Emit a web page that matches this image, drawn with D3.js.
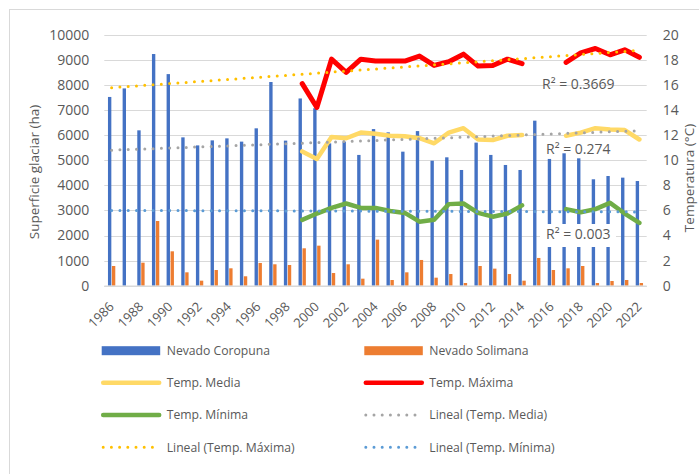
<!DOCTYPE html>
<html>
<head>
<meta charset="utf-8">
<script src="https://cdn.jsdelivr.net/npm/d3@7"></script>
<style>
  body { margin: 0; background: #fff; }
  svg text { font-family: "Open Sans", "Noto Sans", sans-serif; fill: #595959; }
</style>
</head>
<body>
<div id="chart"></div>
<script>
const years = [1986,1987,1988,1989,1990,1991,1992,1993,1994,1995,1996,1997,1998,1999,2000,2001,2002,2003,2004,2005,2006,2007,2008,2009,2010,2011,2012,2013,2014,2015,2016,2017,2018,2019,2020,2021,2022];

// superficie glaciar (ha)
const coropuna = [7520,7860,6190,9230,8430,5910,5590,5790,5870,5740,6270,8115,5780,7460,7070,5670,5740,5210,6240,6110,5340,6160,4980,5115,4610,5700,5210,4810,4610,6575,5050,5275,5075,4240,4370,4305,4170];
const solimana = [785,0,917,2578,1370,533,200,625,693,375,905,853,825,1490,1595,505,853,280,1835,227,533,1025,320,465,107,785,680,465,200,1105,625,693,785,107,187,227,107];

// temperaturas desde 1999 (null = sin dato)
const tempYears = [1999,2000,2001,2002,2003,2004,2005,2006,2007,2008,2009,2010,2011,2012,2013,2014,2015,2016,2017,2018,2019,2020,2021,2022];
const tMedia  = [10.7,10.1,11.85,11.75,12.2,12.1,11.95,11.9,11.75,11.35,12.2,12.55,11.65,11.6,11.95,12.0,null,null,11.95,12.2,12.55,12.45,12.4,11.65];
const tMaxima = [16.1,14.2,18.05,17.0,18.05,17.9,17.9,17.9,18.3,17.55,17.85,18.45,17.5,17.55,18.05,17.7,null,null,17.8,18.55,18.9,18.4,18.8,18.2];
const tMinima = [5.25,5.75,6.2,6.55,6.2,6.2,5.95,5.8,5.1,5.25,6.5,6.55,5.8,5.5,5.75,6.4,null,null,6.1,5.85,6.1,6.6,5.75,5.0];

// lineas de tendencia (valor en 1986 y en 2022)
const trendYears = [1986, 2022];
const trendMedia  = [10.8, 12.35];
const trendMaxima = [15.78, 18.75];
const trendMinima = [6.0, 5.88];
const r2Labels = ["R² = 0.3669", "R² = 0.274", "R² = 0.003"];

const leftTicks = [0,1000,2000,3000,4000,5000,6000,7000,8000,9000,10000];
const rightTicks = [0,2,4,6,8,10,12,14,16,18,20];
const yearLabels = [1986,1988,1990,1992,1994,1996,1998,2000,2002,2004,2006,2008,2010,2012,2014,2016,2018,2020,2022];

const palette = {
  grid: "#d9d9d9",
  coropuna: "#4472c4",
  solimana: "#ed7d31",
  media: "#ffd966",
  maxima: "#ff0000",
  minima: "#70ad47",
  trendMedia: "#a5a5a5",
  trendMaxima: "#ffc000",
  trendMinima: "#5b9bd5"
};

const width = 699, height = 474;
const plot = {left: 104.3, right: 646.7, top: 34.7, bottom: 285.7};

const svg = d3.select("#chart").append("svg")
  .attr("width", width).attr("height", height);

// marco del grafico
svg.append("rect")
  .attr("x", 9.5).attr("y", 9.5).attr("width", 720).attr("height", 500)
  .attr("fill", "none").attr("stroke", palette.grid);

const x = d3.scaleBand().domain(years).range([plot.left, plot.right])
  .paddingInner(0.5).paddingOuter(0.25);
const xSub = d3.scaleBand().domain(["c", "s"]).range([0, x.bandwidth()]).paddingInner(0.15);
const cx = yr => x(yr) + x.bandwidth() / 2;
const xTrend = d3.scaleLinear().domain(trendYears).range([cx(trendYears[0]), cx(trendYears[1])]);

const yL = d3.scaleLinear().domain([0, 10000]).range([plot.bottom, plot.top]);
const yR = d3.scaleLinear().domain([0, 20]).range([plot.bottom, plot.top]);

// gridlines
svg.append("g").selectAll("line")
  .data(leftTicks).enter().append("line")
  .attr("x1", plot.left).attr("x2", plot.right)
  .attr("y1", d => Math.round(yL(d)) + 0.5).attr("y2", d => Math.round(yL(d)) + 0.5)
  .attr("stroke", palette.grid).attr("stroke-width", 1);

// ejes
const leftAxis = svg.append("g").attr("transform", "translate(" + plot.left + ",0)")
  .call(d3.axisLeft(yL).tickValues(leftTicks).tickSize(0).tickPadding(15).tickFormat(d3.format("d")));
const rightAxis = svg.append("g").attr("transform", "translate(" + plot.right + ",0)")
  .call(d3.axisRight(yR).tickValues(rightTicks).tickSize(0).tickPadding(16).tickFormat(d3.format("d")));
[leftAxis, rightAxis].forEach(a => {
  a.select(".domain").remove();
  a.selectAll("text").attr("font-size", "14px").attr("fill", "#595959")
    .attr("font-family", "'Open Sans', sans-serif");
});

const bottomAxis = svg.append("g").attr("transform", "translate(0," + plot.bottom + ")")
  .call(d3.axisBottom(x).tickValues(yearLabels).tickSize(0).tickFormat(d3.format("d")));
bottomAxis.select(".domain").remove();
bottomAxis.selectAll("text")
  .attr("font-size", "13px").attr("fill", "#595959")
  .attr("font-family", "'Open Sans', sans-serif")
  .attr("text-anchor", "end")
  .attr("x", 0).attr("y", 0)
  .attr("dy", "0.35em")
  .attr("transform", "translate(0,18.5) rotate(-45)");

// barras
const bars = svg.append("g");
bars.selectAll(".coropuna")
  .data(years.map((yr, i) => ({yr: yr, v: coropuna[i]}))).enter().append("rect")
  .attr("x", d => x(d.yr) + xSub("c")).attr("width", xSub.bandwidth())
  .attr("y", d => yL(d.v)).attr("height", d => yL(0) - yL(d.v))
  .attr("fill", palette.coropuna);
bars.selectAll(".solimana")
  .data(years.map((yr, i) => ({yr: yr, v: solimana[i]}))).enter().append("rect")
  .attr("x", d => x(d.yr) + xSub("s")).attr("width", xSub.bandwidth())
  .attr("y", d => yL(d.v)).attr("height", d => yL(0) - yL(d.v))
  .attr("fill", palette.solimana);

// linea base
svg.append("line")
  .attr("x1", plot.left).attr("x2", plot.right)
  .attr("y1", plot.bottom + 0.5).attr("y2", plot.bottom + 0.5)
  .attr("stroke", palette.grid).attr("stroke-width", 1.5);

// temperaturas
const line = d3.line()
  .defined(d => d.v != null)
  .x(d => cx(d.yr)).y(d => yR(d.v));

[[tMedia, palette.media], [tMaxima, palette.maxima], [tMinima, palette.minima]].forEach(s => {
  svg.append("path")
    .datum(tempYears.map((yr, i) => ({yr: yr, v: s[0][i]})))
    .attr("d", line)
    .attr("fill", "none")
    .attr("stroke", s[1])
    .attr("stroke-width", s[1] == palette.maxima ? 5 : 4.5)
    .attr("stroke-linejoin", "round")
    .attr("stroke-linecap", "round");
});

// tendencias
[[trendMedia, palette.trendMedia], [trendMaxima, palette.trendMaxima], [trendMinima, palette.trendMinima]].forEach(t => {
  svg.append("line")
    .attr("x1", xTrend(trendYears[0])).attr("x2", xTrend(trendYears[1]))
    .attr("y1", yR(t[0][0])).attr("y2", yR(t[0][1]))
    .attr("stroke", t[1]).attr("stroke-width", 3)
    .attr("stroke-linecap", "round")
    .attr("stroke-dasharray", "0 8.3");
});

// etiquetas R²
const r2Pos = [[542, 89, false], [546, 154, false], [546, 239, true]];
r2Labels.forEach((txt, i) => {
  const p = r2Pos[i];
  if (p[2]) {
    svg.append("rect").attr("x", p[0] - 6).attr("y", p[1] - 15)
      .attr("width", 76).attr("height", 23).attr("fill", "#fff");
  }
  svg.append("text").attr("x", p[0]).attr("y", p[1])
    .attr("font-size", "14px").text(txt);
});

// titulos de ejes
svg.append("text")
  .attr("transform", "translate(39,172) rotate(-90)")
  .attr("text-anchor", "middle").attr("font-size", "13.5px")
  .text("Superficie glaciar (ha)");
svg.append("text")
  .attr("transform", "translate(694,178) rotate(-90)")
  .attr("text-anchor", "middle").attr("font-size", "13.5px")
  .text("Temperatura (°C)");

// leyenda
const legendItems = [
  {name: "Nevado Coropuna", color: palette.coropuna, type: "bar"},
  {name: "Nevado Solimana", color: palette.solimana, type: "bar"},
  {name: "Temp. Media", color: palette.media, type: "line"},
  {name: "Temp. Máxima", color: palette.maxima, type: "line"},
  {name: "Temp. Mínima", color: palette.minima, type: "line"},
  {name: "Lineal (Temp. Media)", color: palette.trendMedia, type: "dot"},
  {name: "Lineal (Temp. Máxima)", color: palette.trendMaxima, type: "dot"},
  {name: "Lineal (Temp. Mínima)", color: palette.trendMinima, type: "dot"}
];
const legendCols = [101.7, 364.3];
const legendRows = [350.7, 382.7, 415, 447.3];

const legend = svg.append("g").selectAll("g")
  .data(legendItems).enter().append("g")
  .attr("transform", (d, i) => "translate(" + legendCols[i % 2] + "," + legendRows[Math.floor(i / 2)] + ")");

legend.each(function(d) {
  const g = d3.select(this);
  if (d.type == "bar") {
    g.append("rect").attr("x", 0).attr("y", -4.5).attr("width", 58.5).attr("height", 9).attr("fill", d.color);
  } else if (d.type == "line") {
    g.append("line").attr("x1", 1.5).attr("x2", 57.5).attr("y1", 0).attr("y2", 0)
      .attr("stroke", d.color).attr("stroke-width", 4.5).attr("stroke-linecap", "round");
  } else {
    g.append("line").attr("x1", 1.5).attr("x2", 58).attr("y1", 0).attr("y2", 0)
      .attr("stroke", d.color).attr("stroke-width", 3).attr("stroke-linecap", "round")
      .attr("stroke-dasharray", "0 8.2");
  }
  g.append("text").attr("x", 65).attr("y", 0).attr("dy", "0.35em")
    .attr("font-size", "12.2px").text(d.name);
});
</script>
</body>
</html>
